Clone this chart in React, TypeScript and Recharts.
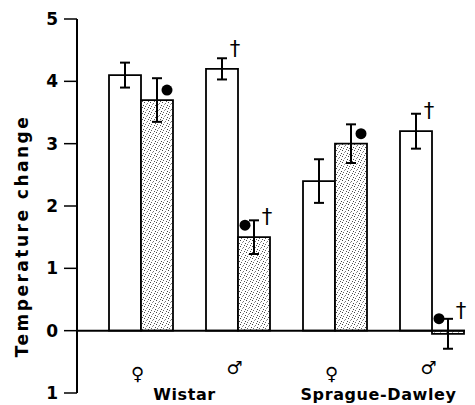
import React from "react";
import { BarChart, Bar, XAxis, YAxis, ErrorBar, ReferenceLine, LabelList } from "recharts";

// ---- data ----
const groups = ["Wistar ♀", "Wistar ♂", "Sprague-Dawley ♀", "Sprague-Dawley ♂"];
const sexLabels = ["♀", "♂", "♀", "♂"];
const strainLabels = ["Wistar", "", "Sprague-Dawley", ""];
const openValues = [4.1, 4.2, 2.4, 3.2];
const openErrors = [0.2, 0.17, 0.35, 0.28];
const stippledValues = [3.7, 1.5, 3.0, -0.05];
const stippledErrors = [0.35, 0.27, 0.31, 0.24];
const openMarks = ["", "dagger", "", "dagger"];
const stippledMarks = ["dot-right", "dot-left,dagger", "dot-right", "dot-left,dagger"];
const yTicks = [-1, 0, 1, 2, 3, 4, 5];
const yTickLabels = ["1", "0", "1", "2", "3", "4", "5"];
const yAxisTitle = "Temperature change";

const data = groups.map((g, i) => ({
  group: g,
  spacer: null,
  open: openValues[i],
  openErr: openErrors[i],
  openMarks: openMarks[i],
  stippled: stippledValues[i],
  stippledErr: stippledErrors[i],
  stippledMarks: stippledMarks[i],
}));

const FONT = "'DejaVu Sans', sans-serif";

const renderMarks = (props: any) => {
  const { x, y, width, height, value, index } = props;
  if (!value) return null;
  const cx = Number(x) + Number(width) / 2;
  const top = Math.min(Number(y), Number(y) + Number(height));
  return (
    <g key={`m-${index}-${x}`}>
      {String(value)
        .split(",")
        .map((m: string) => {
          if (m === "dot-right") return <circle key={m} cx={cx + 10} cy={top - 10} r={5.5} fill="#000" />;
          if (m === "dot-left") return <circle key={m} cx={cx - 9} cy={top - 12} r={5.5} fill="#000" />;
          if (m === "dagger")
            return (
              <text key={m} x={cx + 13} y={top - 20} fontSize={21} textAnchor="middle" dominantBaseline="central" fill="#000" fontFamily={FONT}>
                †
              </text>
            );
          return null;
        })}
    </g>
  );
};

const SexTick = (props: any) => {
  const { x, y, payload } = props;
  const i = payload.index;
  const isFemale = sexLabels[i] === "♀";
  return (
    <g>
      <text x={x + 12} y={y - (isFemale ? 20 : 26)} fontSize={18} fontWeight={700} textAnchor="middle" dominantBaseline="central" fill="#000" fontFamily={FONT}>
        {sexLabels[i]}
      </text>
      {strainLabels[i] ? (
        <text x={x + 59} y={y + 1} fontSize={16} fontWeight={700} textAnchor="middle" dominantBaseline="central" fill="#000" fontFamily={FONT} letterSpacing={0.6}>
          {strainLabels[i]}
        </text>
      ) : null}
    </g>
  );
};

const YTitle = (props: any) => {
  const vb = props.viewBox || { x: 0, y: 19, width: 77, height: 374 };
  const cx = vb.x + 22;
  const cy = vb.y + vb.height / 2 + 30;
  return (
    <text x={cx} y={cy} transform={`rotate(-90, ${cx}, ${cy})`} fontSize={17} fontWeight={700} textAnchor="middle" dominantBaseline="central" fill="#000" fontFamily={FONT} letterSpacing={2.5}>
      {yAxisTitle}
    </text>
  );
};

export default function App() {
  return (
    <div style={{ position: "absolute", left: 0, top: 0, width: 475, height: 405, background: "#fff", fontFamily: FONT }}>
      <svg width={0} height={0} style={{ position: "absolute" }}>
        <defs>
          <pattern id="stipple" width={6} height={6} patternUnits="userSpaceOnUse">
            <rect width={6} height={6} fill="#fff" />
            <rect x={0} y={0} width={1} height={1} fill="#444" />
            <rect x={3} y={1} width={1} height={1} fill="#777" />
            <rect x={5} y={3} width={1} height={1} fill="#444" />
            <rect x={1} y={4} width={1} height={1} fill="#666" />
            <rect x={4} y={5} width={1} height={1} fill="#555" />
            <rect x={2} y={2} width={1} height={1} fill="#999" />
          </pattern>
        </defs>
      </svg>
      <BarChart width={475} height={405} data={data} margin={{ top: 19, right: 10, left: 0, bottom: 0 }} barCategoryGap={0} barGap={0}>
        <XAxis dataKey="group" height={12} axisLine={false} tickLine={false} tickSize={0} tickMargin={0} interval={0} tick={<SexTick />} />
        <YAxis
          width={77}
          domain={[-1, 5]}
          ticks={yTicks}
          interval={0}
          tickSize={13}
          tickMargin={6}
          axisLine={{ stroke: "#000", strokeWidth: 2 }}
          tickLine={{ stroke: "#000", strokeWidth: 1.5 }}
          tick={{ fill: "#000", fontSize: 17, fontWeight: 700, fontFamily: FONT }}
          tickFormatter={(v: number) => yTickLabels[yTicks.indexOf(v)]}
          label={<YTitle />}
        />
        <Bar dataKey="spacer" fill="none" stroke="none" isAnimationActive={false} legendType="none" />
        <Bar dataKey="open" fill="#fff" stroke="#000" strokeWidth={1.8} isAnimationActive={false}>
          <ErrorBar dataKey="openErr" width={5} stroke="#000" strokeWidth={2} isAnimationActive={false} />
          <LabelList dataKey="openMarks" content={renderMarks} />
        </Bar>
        <Bar dataKey="stippled" fill="url(#stipple)" stroke="#000" strokeWidth={1.8} isAnimationActive={false}>
          <ErrorBar dataKey="stippledErr" width={5} stroke="#000" strokeWidth={2} isAnimationActive={false} />
          <LabelList dataKey="stippledMarks" content={renderMarks} />
        </Bar>
        <ReferenceLine y={0} stroke="#000" strokeWidth={2} />
      </BarChart>
    </div>
  );
}
